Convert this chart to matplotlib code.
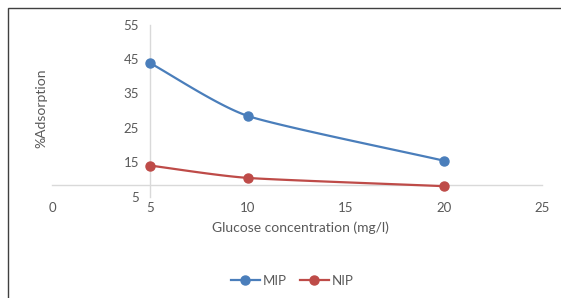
import numpy as np
import matplotlib
matplotlib.use("Agg")
import matplotlib.pyplot as plt
from matplotlib.patches import Rectangle
from matplotlib.lines import Line2D

concentration = [5, 10, 20]
mip = [43.8, 28.4, 15.4]
nip = [14.0, 10.4, 8.0]
x_ticks = [0, 5, 10, 15, 20, 25]
y_ticks = [5, 15, 25, 35, 45, 55]

plt.rcParams['font.family'] = ['Lato', 'DejaVu Sans']
TXT = '#595959'
GRID = '#d9d9d9'


def smooth(xs, ys, n=40):
    # Catmull-Rom style smoothing through data points (Excel "smoothed line")
    xs = np.asarray(xs, float); ys = np.asarray(ys, float)
    px = np.concatenate([[2 * xs[0] - xs[1]], xs, [2 * xs[-1] - xs[-2]]])
    py = np.concatenate([[2 * ys[0] - ys[1]], ys, [2 * ys[-1] - ys[-2]]])
    ox, oy = [], []
    for i in range(1, len(px) - 2):
        t = np.linspace(0, 1, n)
        for arr, out in ((px, ox), (py, oy)):
            p0, p1, p2, p3 = arr[i - 1], arr[i], arr[i + 1], arr[i + 2]
            m1 = (p2 - p0) / 2 * 0.6
            m2 = (p3 - p1) / 2 * 0.6
            h00 = 2 * t**3 - 3 * t**2 + 1
            h10 = t**3 - 2 * t**2 + t
            h01 = -2 * t**3 + 3 * t**2
            h11 = t**3 - t**2
            out.extend(h00 * p1 + h10 * m1 + h01 * p2 + h11 * m2)
    return ox, oy


fig = plt.figure(figsize=(5.61, 2.98), dpi=100)
W, H = 561, 298
ax = fig.add_axes([52 / W, 1 - 196.5 / H, 490 / W, 172 / H])
ax.set_xlim(0, 25)
ax.set_ylim(5, 55)

for s in ['top', 'right']:
    ax.spines[s].set_visible(False)
ax.spines['left'].set_position(('data', 5))
ax.spines['bottom'].set_position(('data', 8.2))
ax.spines['left'].set_color(GRID)
ax.spines['bottom'].set_color(GRID)
ax.spines['left'].set_linewidth(1.0)
ax.spines['bottom'].set_linewidth(1.0)
ax.set_xticks(x_ticks)
ax.set_yticks(y_ticks)
ax.tick_params(axis='both', length=0, labelsize=9.5, labelcolor=TXT)
ax.tick_params(axis='y', pad=8)
ax.tick_params(axis='x', pad=12)

colors = {'MIP': '#4a7ebb', 'NIP': '#be4b48'}
for name, vals in (('MIP', mip), ('NIP', nip)):
    sx, sy = smooth(concentration, vals)
    ax.plot(sx, sy, color=colors[name], lw=1.6, zorder=3, solid_capstyle='round')
    ax.plot(concentration, vals, 'o', color=colors[name], ms=6.5, zorder=4)

fig.text(300 / W, 1 - 228 / H, 'Glucose concentration (mg/l)', ha='center', va='center',
         fontsize=10, color=TXT)
fig.text(41 / W, 1 - 108 / H, '%Adsorption', ha='center', va='center', rotation=90,
         fontsize=10, color=TXT)

handles = [Line2D([], [], color=colors[n], lw=1.6, marker='o', ms=6.5) for n in ('MIP', 'NIP')]
fig.legend(handles, ['MIP', 'NIP'], loc='center', bbox_to_anchor=(292 / W, 1 - 281 / H),
           ncol=2, frameon=False, fontsize=9.5, labelcolor=TXT, handlelength=2.2,
           handletextpad=0.2, columnspacing=1.0)

fig.patches.append(Rectangle((7.5 / W, -0.1), 1.2, 1 - 7.5 / H + 0.1, transform=fig.transFigure,
                             fill=False, edgecolor='#404040', lw=1.0))

fig.savefig('out.png', dpi=100)
